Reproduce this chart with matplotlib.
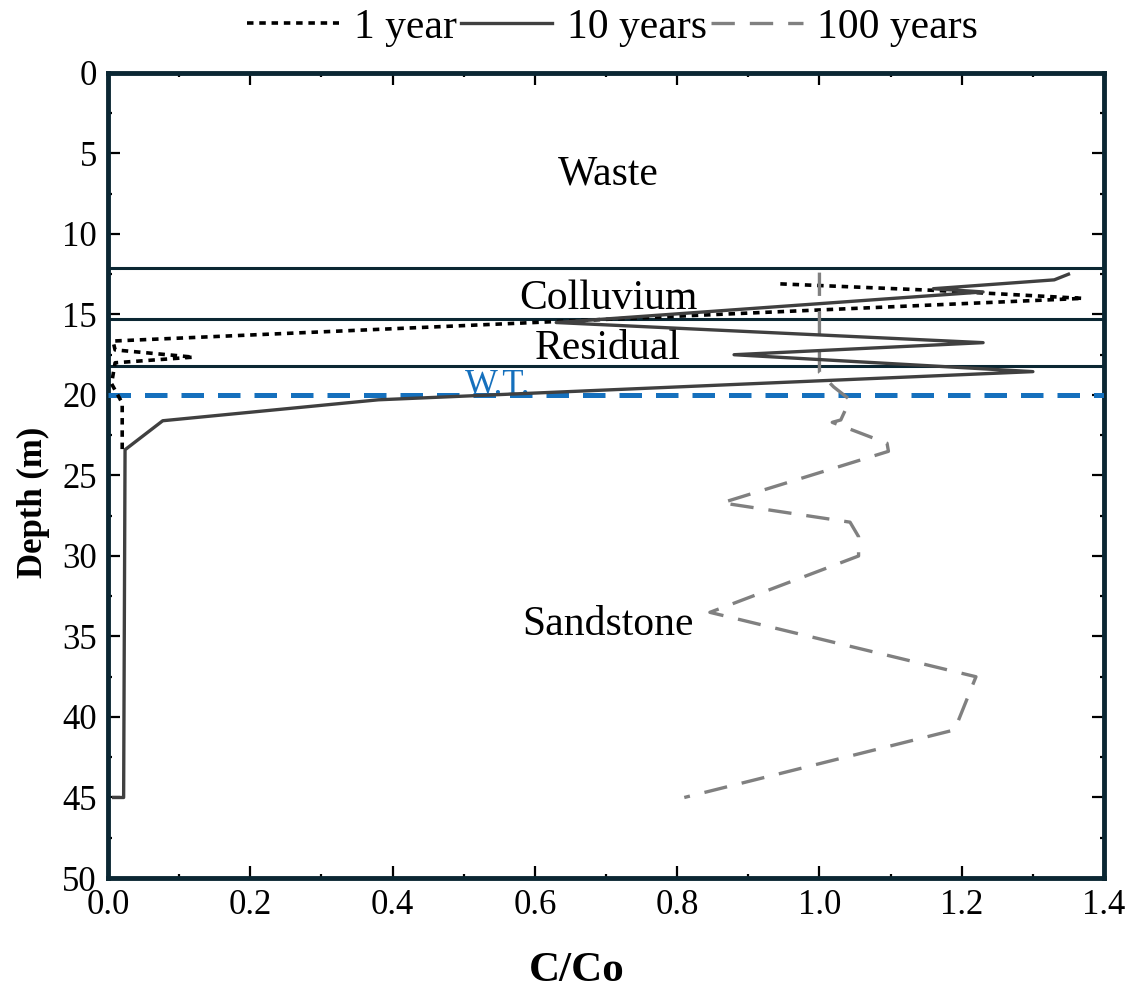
import matplotlib
matplotlib.use("Agg")
import matplotlib.pyplot as plt
from matplotlib.ticker import MultipleLocator, FormatStrFormatter

# Concentration profiles (C/Co) versus depth (m)
depth_1yr = [13.1, 13.5, 14.0, 16.65, 17.2, 17.65, 18.0, 19.3, 20.5, 23.5]
conc_1yr = [0.945, 1.16, 1.37, 0.007, 0.01, 0.12, 0.01, 0.005, 0.02, 0.02]

depth_10yr = [12.5, 12.85, 13.4, 13.6, 15.5, 16.75, 17.5, 18.55, 20.3, 21.6, 23.4, 45.0, 45.0]
conc_10yr = [1.35, 1.33, 1.16, 1.23, 0.63, 1.23, 0.88, 1.30, 0.38, 0.077, 0.024, 0.022, 0.008]

depth_100yr = [12.4, 15.3, 16.3, 18.6, 19.5, 20.3, 21.55, 21.7, 23.0, 23.5, 26.7,
               27.9, 28.8, 30.0, 33.5, 37.5, 40.8, 45.0]
conc_100yr = [1.0, 1.0, 1.0, 1.0, 1.02, 1.043, 1.03, 1.018, 1.095, 1.097, 0.863,
              1.043, 1.055, 1.055, 0.846, 1.22, 1.19, 0.81]

layer_bounds = [12.1, 15.3, 18.2]
water_table = 20.0
layer_names = ["Waste", "Colluvium", "Residual", "Sandstone"]
layer_label_depths = [6.3, 14.0, 17.1, 34.3]

plt.rcParams["font.family"] = ["Liberation Serif", "DejaVu Serif"]

fig = plt.figure(figsize=(11.39, 9.94), dpi=100)
ax = fig.add_axes([0.0948, 0.1167, 0.8745, 0.8099])

frame = "#0b2733"
for b in layer_bounds:
    ax.axhline(b, color=frame, lw=2.2, zorder=2)

ax.axhline(water_table, color="#1570bd", lw=3.6, dashes=(4.5, 2.8), zorder=3)
ax.text(0.547, water_table - 0.05, "W.T.", color="#1570bd", fontsize=25,
        ha="center", va="baseline", zorder=3)

l1, = ax.plot(conc_1yr, depth_1yr, color="black", lw=2.6, dashes=(1.8, 1.6),
              label="1 year", zorder=4)
l10, = ax.plot(conc_10yr, depth_10yr, color="#404040", lw=2.4,
               label="10 years", zorder=5)
l100, = ax.plot(conc_100yr, depth_100yr, color="#808080", lw=2.4, dashes=(7, 4.5),
                label="100 years", zorder=4)

for name, d in zip(layer_names, layer_label_depths):
    ax.text(0.703, d, name, fontsize=30, ha="center", va="center", zorder=6)

ax.set_xlim(0, 1.4)
ax.set_ylim(50, 0)
ax.xaxis.set_major_locator(MultipleLocator(0.2))
ax.xaxis.set_minor_locator(MultipleLocator(0.1))
ax.xaxis.set_major_formatter(FormatStrFormatter("%.1f"))
ax.yaxis.set_major_locator(MultipleLocator(5))
ax.yaxis.set_minor_locator(MultipleLocator(2.5))
ax.tick_params(which="both", direction="in", top=True, right=True, labelsize=25,
               color="black")
ax.tick_params(which="major", length=8.5, width=1.6, pad=8)
ax.tick_params(which="minor", length=3, width=1.6)

for sp in ax.spines.values():
    sp.set_color(frame)
    sp.set_linewidth(3.5)

ax.set_xlabel("C/Co", fontsize=31, fontweight="bold")
ax.xaxis.set_label_coords(0.471, -0.092)
ax.set_ylabel("Depth (m)", fontsize=25, fontweight="bold")
ax.yaxis.set_label_coords(-0.058, 0.467)

fig.legend(handles=[l1, l10, l100], loc="center", bbox_to_anchor=(0.538, 0.972),
           ncol=3, frameon=False, fontsize=30, handlelength=2.2, handletextpad=0.35,
           columnspacing=0.1)

fig.savefig("out.png", dpi=100)
